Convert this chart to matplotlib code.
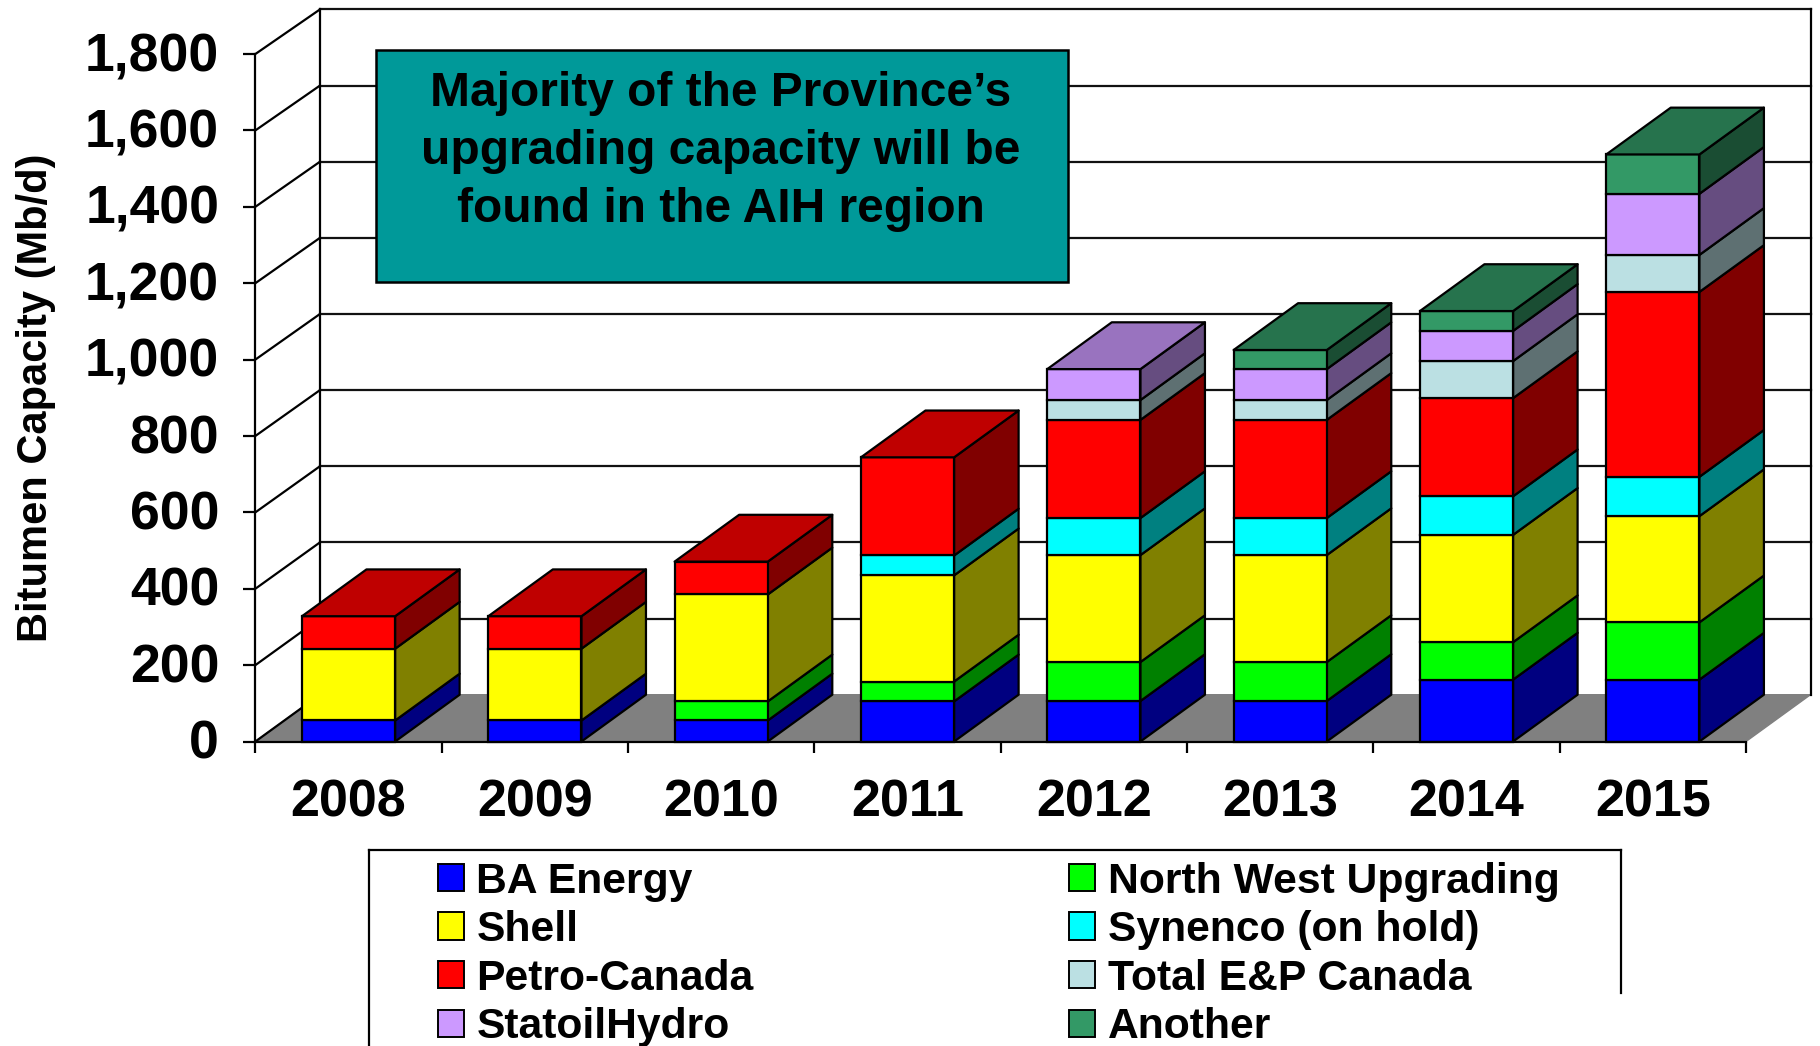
import matplotlib
matplotlib.use("Agg")
import numpy as np
import matplotlib.pyplot as plt
from matplotlib.lines import Line2D
from matplotlib.patches import Patch, Polygon, Rectangle
from matplotlib.colors import to_rgb
from matplotlib.ticker import FuncFormatter
from matplotlib.transforms import ScaledTranslation

plt.rcParams['font.family'] = ['Liberation Sans', 'DejaVu Sans']
plt.rcParams['font.weight'] = 'bold'

years = ['2008', '2009', '2010', '2011', '2012', '2013', '2014', '2015']

# Mb/d
ba_energy = [55, 55, 55, 105, 106, 106, 162, 162]
north_west = [0, 0, 50, 52, 102, 102, 98, 150]
shell = [188, 188, 280, 278, 280, 280, 281, 278]
synenco = [0, 0, 0, 52, 97, 97, 101, 103]
petro_canada = [85, 85, 86, 257, 257, 257, 257, 484]
total_ep = [0, 0, 0, 0, 52, 52, 97, 97]
statoil = [0, 0, 0, 0, 81, 81, 79, 160]
another = [0, 0, 0, 0, 0, 50, 52, 103]

series_names = ['BA Energy', 'North West Upgrading', 'Shell', 'Synenco (on hold)',
                'Petro-Canada', 'Total E&P Canada', 'StatoilHydro', 'Another']
series_values = [ba_energy, north_west, shell, synenco,
                 petro_canada, total_ep, statoil, another]
series_colors = ['#0000FF', '#00FF00', '#FFFF00', '#00FFFF',
                 '#FF0000', '#BBE0E3', '#CC99FF', '#339966']

W, H = 1820, 1046
AX_L, AX_R, AX_T, AX_B = 255.4, 1746.0, 54.0, 741.5
DEPTH_X = 64.5 / ((AX_R - AX_L) / 8)        # category units
DEPTH_Y = 46.8 / ((AX_B - AX_T) / 1800)     # Mb/d
BACK_SCALE = 0.9967     # back wall is drawn a touch smaller than the front axis
LW = 1.6


def fx(px):
    return px / W


def fy(px):
    return 1 - px / H


def shade(color, k):
    return tuple(c * k for c in to_rgb(color))


def back_y(v):
    return v * BACK_SCALE + DEPTH_Y


fig = plt.figure(figsize=(W / 100, H / 100), dpi=100, facecolor='white')
ax = fig.add_axes([fx(AX_L), fy(AX_B), fx(AX_R - AX_L), (AX_B - AX_T) / H])
ax.patch.set_visible(False)
ax.set_xlim(0, 8)
ax.set_ylim(0, 1800)

yticks = np.arange(0, 1801, 200)
n = len(years)

# floor
ax.add_patch(Polygon([(0, 0), (n, 0), (n + DEPTH_X, DEPTH_Y), (DEPTH_X, DEPTH_Y)],
                     facecolor='#808080', edgecolor='#808080', lw=1, clip_on=False, zorder=1))

# walls
for v in yticks:
    ax.plot([0, DEPTH_X], [v, back_y(v)], color='black', lw=LW, clip_on=False, zorder=1.5)
    if v > 0:
        ax.plot([DEPTH_X, n + DEPTH_X], [back_y(v), back_y(v)], color='#111111', lw=LW,
                clip_on=False, zorder=1.5)
for xw in [DEPTH_X, n + DEPTH_X]:
    ax.plot([xw, xw], [back_y(0), back_y(1800)], color='black', lw=LW, clip_on=False, zorder=1.5)

# stacked boxes
bar_w = 0.5
for i in range(n):
    x0 = i + 0.25
    x1 = x0 + bar_w
    base = 0
    last_color = None
    for vals, col in zip(series_values, series_colors):
        v = vals[i]
        if v == 0:
            continue
        top = base + v
        ax.add_patch(Polygon([(x1, base), (x1 + DEPTH_X, base + DEPTH_Y),
                              (x1 + DEPTH_X, top + DEPTH_Y), (x1, top)],
                             facecolor=shade(col, 0.5), edgecolor='black', lw=LW,
                             joinstyle='round', clip_on=False, zorder=2))
        ax.add_patch(Rectangle((x0, base), bar_w, v, facecolor=col, edgecolor='black', lw=LW,
                               clip_on=False, zorder=2))
        base = top
        last_color = col
    ax.add_patch(Polygon([(x0, base), (x1, base), (x1 + DEPTH_X, base + DEPTH_Y),
                          (x0 + DEPTH_X, base + DEPTH_Y)],
                         facecolor=shade(last_color, 0.75), edgecolor='black', lw=LW,
                         joinstyle='round', clip_on=False, zorder=2))

# axes
for s in ['top', 'right']:
    ax.spines[s].set_visible(False)
for s in ['left', 'bottom']:
    ax.spines[s].set_linewidth(LW)
    ax.spines[s].set_zorder(3)

ax.set_yticks(yticks)
ax.yaxis.set_major_formatter(FuncFormatter(lambda v, p: f'{int(v):,}'))
ax.tick_params(axis='y', length=8.6, width=LW, pad=17.5, labelsize=38.5)
ax.set_xticks(np.arange(0, n + 1))
ax.set_xticklabels([])
ax.set_xticks(np.arange(n) + 0.5, minor=True)
ax.set_xticklabels(years, minor=True)
ax.tick_params(axis='x', which='major', length=8, width=LW)
ax.tick_params(axis='x', which='minor', length=0, pad=26.3, labelsize=37.5)
for t in ax.get_xticklabels(minor=True) + ax.get_yticklabels():
    t.set_fontweight('bold')
for t in ax.get_yticklabels():
    t.set_transform(t.get_transform() + ScaledTranslation(0, 2.3 / 100, fig.dpi_scale_trans))

fig.text(fx(36), fy(398), 'Bitumen Capacity (Mb/d)', rotation=90, ha='center', va='center',
         fontsize=30, fontweight='bold')

# call-out box
fig.add_artist(Rectangle((fx(376), fy(282)), fx(692), 232 / H, transform=fig.transFigure,
                         facecolor='#009999', edgecolor='black', lw=1.8, zorder=5))
callout = ['Majority of the Province’s', 'upgrading capacity will be', 'found in the AIH region']
for line, yp in zip(callout, [93.5, 151.5, 209.5]):
    fig.text(fx(721), fy(yp), line, ha='center', va='center', fontsize=34.5,
             fontweight='bold', zorder=6)

# legend
order = [0, 2, 4, 6, 1, 3, 5, 7]
handles = [Patch(facecolor=series_colors[k], edgecolor='black', lw=1.4) for k in order]
labels = [series_names[k] for k in order]
fig.legend(handles, labels, ncol=2, loc='upper left', bbox_to_anchor=(fx(438), fy(861.5)),
           frameon=False, fontsize=30.7, borderpad=0, borderaxespad=0,
           handlelength=0.6, handleheight=0.6, handletextpad=0.3,
           labelspacing=0.2, columnspacing=7.4)

for xs, ys in [([369, 1621], [850, 850]), ([369, 369], [850, 1046]), ([1621, 1621], [850, 993])]:
    fig.add_artist(Line2D([fx(x) for x in xs], [fy(y) for y in ys], color='black', lw=1.6))

fig.savefig('out.png', dpi=100)
